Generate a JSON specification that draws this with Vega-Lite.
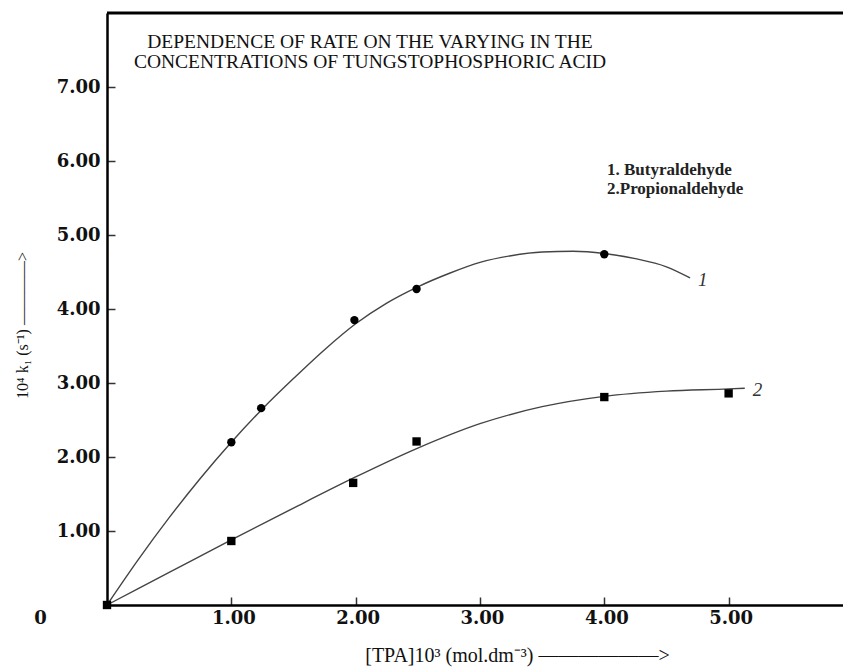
{
  "$schema": "https://vega.github.io/schema/vega-lite/v6.json",
  "width": 736,
  "height": 592,
  "autosize": {"type": "none"},
  "padding": {"left": 107, "top": 13, "right": 0, "bottom": 63},
  "background": "white",
  "config": {"view": {"stroke": null}, "font": "Liberation Serif"},
  "title": {
    "text": ["DEPENDENCE OF RATE ON THE VARYING IN THE", "CONCENTRATIONS OF TUNGSTOPHOSPHORIC ACID"],
    "anchor": "middle",
    "frame": "group",
    "orient": "top",
    "baseline": "top",
    "offset": 0,
    "dy": 61,
    "dx": -105,
    "font": "Liberation Serif",
    "fontSize": 19.5,
    "fontWeight": "normal",
    "lineHeight": 20,
    "color": "#111"
  },
  "datasets": {
    "curves": [
      {"id": "1", "x": 0, "y": 0}, {"id": "1", "x": 0.25, "y": 0.61}, {"id": "1", "x": 0.5, "y": 1.18},
      {"id": "1", "x": 0.75, "y": 1.71}, {"id": "1", "x": 1, "y": 2.2}, {"id": "1", "x": 1.25, "y": 2.65},
      {"id": "1", "x": 1.5, "y": 3.06}, {"id": "1", "x": 1.75, "y": 3.45}, {"id": "1", "x": 2, "y": 3.8},
      {"id": "1", "x": 2.25, "y": 4.08}, {"id": "1", "x": 2.5, "y": 4.3}, {"id": "1", "x": 2.75, "y": 4.48},
      {"id": "1", "x": 3, "y": 4.63}, {"id": "1", "x": 3.25, "y": 4.72}, {"id": "1", "x": 3.5, "y": 4.77},
      {"id": "1", "x": 3.75, "y": 4.78}, {"id": "1", "x": 4, "y": 4.75}, {"id": "1", "x": 4.25, "y": 4.68},
      {"id": "1", "x": 4.5, "y": 4.57}, {"id": "1", "x": 4.69, "y": 4.42},
      {"id": "2", "x": 0, "y": 0}, {"id": "2", "x": 0.5, "y": 0.44}, {"id": "2", "x": 1, "y": 0.88},
      {"id": "2", "x": 1.5, "y": 1.31}, {"id": "2", "x": 2, "y": 1.73}, {"id": "2", "x": 2.5, "y": 2.12},
      {"id": "2", "x": 3, "y": 2.45}, {"id": "2", "x": 3.5, "y": 2.68}, {"id": "2", "x": 4, "y": 2.82},
      {"id": "2", "x": 4.5, "y": 2.89}, {"id": "2", "x": 5, "y": 2.92}, {"id": "2", "x": 5.13, "y": 2.93}
    ],
    "points": [
      {"series": "1. Butyraldehyde", "x": 1.0, "y": 2.2},
      {"series": "1. Butyraldehyde", "x": 1.24, "y": 2.66},
      {"series": "1. Butyraldehyde", "x": 1.99, "y": 3.85},
      {"series": "1. Butyraldehyde", "x": 2.49, "y": 4.27},
      {"series": "1. Butyraldehyde", "x": 4.0, "y": 4.74},
      {"series": "2.Propionaldehyde", "x": 0, "y": 0},
      {"series": "2.Propionaldehyde", "x": 1.0, "y": 0.865},
      {"series": "2.Propionaldehyde", "x": 1.98, "y": 1.65},
      {"series": "2.Propionaldehyde", "x": 2.49, "y": 2.21},
      {"series": "2.Propionaldehyde", "x": 4.0, "y": 2.81},
      {"series": "2.Propionaldehyde", "x": 5.0, "y": 2.86}
    ]
  },
  "encoding": {
    "x": {
      "field": "x",
      "type": "quantitative",
      "scale": {"domain": [0, 5.92], "nice": false, "zero": false},
      "axis": {
        "values": [0, 1, 2, 3, 4, 5],
        "labelExpr": "datum.value == 0 ? '0' : format(datum.value, '.2f')",
        "labelOffset": {"condition": {"test": "datum.value == 0", "value": -67}, "value": 2},
        "tickOpacity": {"condition": {"test": "datum.value == 0", "value": 0}, "value": 1},
        "labelFlush": false,
        "grid": false,
        "domainColor": "black",
        "domainWidth": 2.5,
        "tickColor": "#333",
        "tickWidth": 1.5,
        "tickSize": -8,
        "labelPadding": 12,
        "labelFont": "DejaVu Serif",
        "labelFontWeight": "bold",
        "labelFontSize": 18,
        "labelColor": "#111",
        "title": "[TPA]10³ (mol.dm⁻³) ——————>",
        "titleFont": "Liberation Serif",
        "titleFontWeight": "normal",
        "titleFontSize": 20,
        "titleColor": "#111",
        "titleX": 410,
        "titleY": 50,
        "titleAlign": "center",
        "titleBaseline": "middle"
      }
    },
    "y": {
      "field": "y",
      "type": "quantitative",
      "scale": {"domain": [0, 8], "nice": false},
      "axis": {
        "values": [1, 2, 3, 4, 5, 6, 7],
        "format": ".2f",
        "grid": false,
        "domainColor": "black",
        "domainWidth": 2.5,
        "tickColor": "#333",
        "tickWidth": 1.5,
        "tickSize": -8,
        "labelPadding": 15,
        "labelFont": "DejaVu Serif",
        "labelFontWeight": "bold",
        "labelFontSize": 18,
        "labelColor": "#111",
        "title": "10⁴ k₁ (s⁻¹) ————>",
        "titleFont": "Liberation Serif",
        "titleFontWeight": "normal",
        "titleFontSize": 16,
        "titleColor": "#111",
        "titleAngle": -90,
        "titleX": -85,
        "titleY": 312,
        "titleAlign": "center",
        "titleBaseline": "middle"
      }
    }
  },
  "layer": [
    {
      "data": {"values": [{"x0": 0, "x1": 5.92, "yt": 8}]},
      "mark": {"type": "rule", "color": "black", "strokeWidth": 3},
      "encoding": {
        "x": {"field": "x0", "type": "quantitative"},
        "x2": {"field": "x1"},
        "y": {"field": "yt", "type": "quantitative"}
      }
    },
    {
      "data": {"name": "curves"},
      "mark": {"type": "line", "interpolate": "monotone", "color": "#444", "strokeWidth": 1.4},
      "encoding": {"detail": {"field": "id"}}
    },
    {
      "data": {"name": "curves"},
      "mark": {"type": "text", "align": "left", "baseline": "middle", "dx": 8, "dy": 2, "font": "Liberation Serif", "fontStyle": "italic", "fontSize": 19, "color": "#333"},
      "encoding": {
        "x": {"field": "x", "aggregate": "max", "type": "quantitative"},
        "y": {"field": "y", "aggregate": {"argmax": "x"}, "type": "quantitative"},
        "text": {"field": "id"}
      }
    },
    {
      "data": {"name": "points"},
      "mark": {"type": "point", "filled": true, "opacity": 1, "color": "black", "size": 70},
      "encoding": {
        "shape": {
          "field": "series",
          "type": "nominal",
          "scale": {"domain": ["1. Butyraldehyde", "2.Propionaldehyde"], "range": ["circle", "square"]},
          "legend": {
            "orient": "none",
            "legendX": 483,
            "legendY": 148,
            "title": null,
            "symbolSize": 0,
            "symbolOpacity": 0,
            "symbolStrokeWidth": 0,
            "labelOffset": 0,
            "labelFont": "Liberation Serif",
            "labelFontSize": 17,
            "labelFontWeight": "bold",
            "labelColor": "#222",
            "rowPadding": 1,
            "padding": 0
          }
        }
      }
    }
  ]
}
